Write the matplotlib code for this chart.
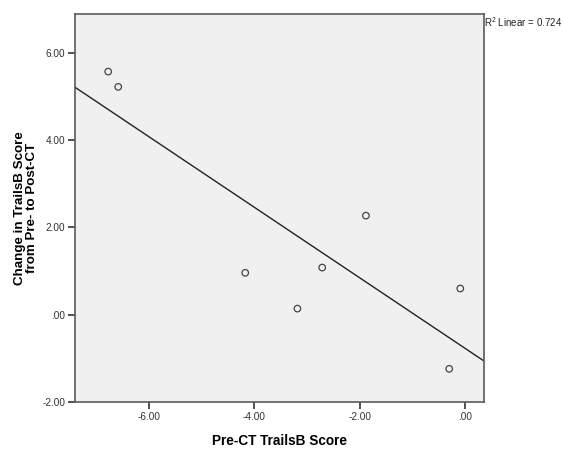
import matplotlib
matplotlib.use("Agg")
import matplotlib.pyplot as plt
import numpy as np

plt.rcParams['font.family'] = ['Liberation Sans', 'DejaVu Sans']
plt.rcParams['mathtext.fontset'] = 'custom'
plt.rcParams['mathtext.rm'] = 'Liberation Sans'

# Pre-CT score vs. change score per participant
pre_ct = [-6.77, -6.58, -4.17, -2.71, -3.18, -1.88, -0.09, -0.30]
change = [5.57, 5.22, 0.96, 1.08, 0.14, 2.27, 0.60, -1.24]
x_ticks = [-6.0, -4.0, -2.0, 0.0]
x_tick_labels = ["-6.00", "-4.00", "-2.00", ".00"]
y_ticks = [-2.0, 0.0, 2.0, 4.0, 6.0]
y_tick_labels = ["-2.00", ".00", "2.00", "4.00", "6.00"]
r2_label = "0.724"

fig = plt.figure(figsize=(5.64, 4.5), dpi=100)
ax = fig.add_axes([75/564, 1-402/450, 409/564, 388/450])
ax.set_facecolor('#f0f0f0')

xlim = (-7.40, 0.36)
ylim = (-2.0, 6.89)
ax.set_xlim(*xlim)
ax.set_ylim(*ylim)

ax.scatter(pre_ct, change, s=22, facecolors='none', edgecolors='#444444',
           linewidths=0.9, zorder=3)

slope, intercept = np.polyfit(pre_ct, change, 1)
xs = np.array(xlim)
ax.plot(xs, slope * xs + intercept, color='#222222', linewidth=1.0, zorder=2)

for side in ['left', 'bottom', 'right', 'top']:
    ax.spines[side].set_color('#5a5a5a')
    ax.spines[side].set_linewidth(1.2)

ax.set_xticks(x_ticks)
ax.set_xticklabels(x_tick_labels)
ax.set_yticks(y_ticks)
ax.set_yticklabels(y_tick_labels)
ax.tick_params(direction='out', length=5, width=1.2, color='#333333',
               labelsize=7.2, labelcolor='#333333', pad=2)

ax.set_xlabel("Pre-CT TrailsB Score", fontsize=9.8, fontweight='bold')
ax.xaxis.set_label_coords(0.5, -(441 - 402) / 388, transform=ax.transAxes)
ax.xaxis.label.set_va('center')
ax.set_ylabel("Change in TrailsB Score\nfrom Pre- to Post-CT", fontsize=9.6,
              fontweight='bold', linespacing=1.0)
ax.yaxis.set_label_coords((38 - 75) / 409, 0.5)

fig.text(484/564, 1-22/450, r"R$^2$ Linear = " + r2_label, fontsize=7,
         ha='left', va='center', color='#222222')

fig.savefig("out.png", dpi=100)
